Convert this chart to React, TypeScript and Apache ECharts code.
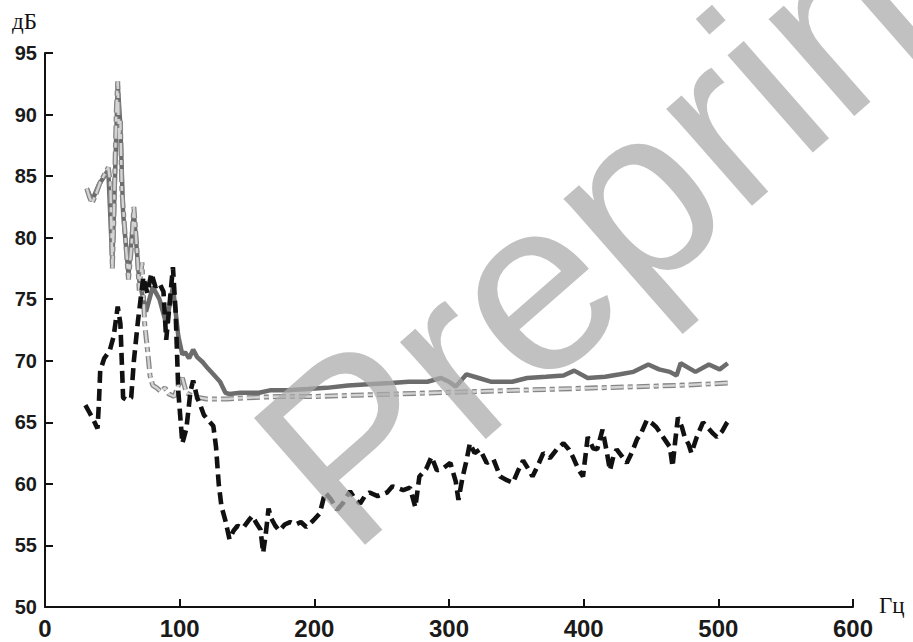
import React, { useEffect, useRef } from "react";
import * as echarts from "echarts";

// ---- data (frequency, Гц / level, дБ) ----
const solidFreq = [31, 35, 40, 47, 50, 52, 54, 56, 58, 62, 66, 70, 75, 80, 85, 90, 95, 99, 102, 104, 107, 110, 113, 117, 120, 125, 130, 134, 137, 145, 159, 167, 180, 195, 209, 225, 240, 257, 270, 284, 294, 300, 305, 313, 322, 331, 347, 358, 372, 385, 393, 403, 416, 427, 437, 448, 456, 464, 469, 472, 483, 493, 501, 507];
const solidDb = [84, 83, 84.3, 85.5, 78, 85, 92.5, 89, 82, 77, 82, 76.5, 74, 76, 75, 73, 76, 72, 70.5, 70.7, 70.2, 70.9, 70.3, 69.9, 69.5, 68.9, 68.3, 67.4, 67.3, 67.4, 67.4, 67.6, 67.6, 67.7, 67.8, 68.0, 68.1, 68.2, 68.3, 68.3, 68.6, 68.3, 67.9, 68.9, 68.6, 68.3, 68.3, 68.6, 68.7, 68.8, 69.2, 68.6, 68.7, 68.9, 69.1, 69.7, 69.3, 69.1, 68.8, 69.8, 69.1, 69.7, 69.3, 69.8];

const dashDotFreq = [31, 33, 35, 38, 41, 44, 47, 48.5, 50, 51, 52, 53, 54, 55, 56, 57, 58, 60, 62, 64, 66, 68, 70, 72, 74, 76, 78, 80, 83, 86, 89, 92, 96, 99, 102, 105, 110, 120, 135, 150, 175, 200, 230, 260, 290, 320, 350, 380, 410, 440, 470, 490, 508];
const dashDotDb = [84, 83.3, 82.8, 83.6, 84.5, 85.1, 85.7, 84.5, 77.5, 81, 86, 90.5, 92.7, 88, 89.5, 84, 82.5, 79.5, 76.6, 79, 82.5, 79.5, 75.7, 78, 73, 71, 68.8, 68.0, 67.8, 67.5, 67.8, 67.3, 67.1, 68.0, 68.6, 67.4, 67.1, 66.9, 66.9, 67.0, 67.1, 67.1, 67.2, 67.3, 67.4, 67.5, 67.6, 67.7, 67.8, 67.9, 68.0, 68.1, 68.2];

const dashedFreq = [30, 33, 36, 39, 40, 41, 44, 48, 51, 54, 56, 57, 58, 61, 64, 66, 69, 71, 73, 76, 79, 82, 85, 88, 90, 92, 95, 97, 99, 102, 105, 108, 110, 113, 115, 118, 121, 125, 127, 129, 131, 134, 137, 140, 143, 147, 151, 154, 157, 160, 162, 164, 166, 168, 171, 174, 178, 182, 186, 190, 194, 199, 204, 208, 212, 217, 221, 226.5, 230, 234, 238, 241, 247, 254, 258, 261, 266, 271, 275, 278, 283, 287, 291, 296, 301, 305, 307, 310, 313, 315.5, 319, 323, 328, 333, 338, 343, 347.5, 351, 355, 359, 362, 366, 370, 375, 380, 385, 389, 392, 396, 399.5, 403, 407, 410, 414, 417, 419.5, 422, 424.5, 428, 432, 436, 439.5, 443, 447, 451, 454, 459, 464, 466, 468, 470, 473, 475, 478, 480, 484, 488.6, 492, 496, 499, 503, 506, 509];
const dashedDb = [66.4, 65.8, 65.2, 64.5, 66.5, 69.2, 70.2, 70.8, 72, 74.4, 73, 70, 67, 66.8, 67, 70, 73.2, 75, 76.8, 75.5, 77.1, 76, 76.3, 75.6, 71.7, 74, 77.6, 74, 67.5, 63.3, 64.5, 67.5, 68.4, 67, 66.5, 65.6, 65.2, 64.7, 63, 60, 58.2, 57, 55.5, 56.2, 56.6, 56.4, 57, 57.4, 56.8, 56.3, 54.4, 56, 58, 57.2, 56.6, 56.2, 56.7, 56.9, 56.7, 56.9, 56.5, 57.0, 57.6, 59.3, 58.8, 57.9, 58.4, 59.4, 58.8, 58.4, 59.1, 59.3, 59.0, 59.3, 59.8, 59.7, 59.5, 59.7, 58.1, 60.6, 61.2, 62.2, 61.1, 61.3, 61.7, 60.2, 58.7, 60.5, 61.9, 63.3, 62.5, 62.8, 61.7, 62, 60.6, 60.3, 60.1, 61, 61.9, 61.2, 60.6, 61.5, 62.5, 62.1, 62.8, 63.3, 62.8, 62.2, 61.2, 60.6, 63.8, 62.9, 62.8, 64.4, 62.7, 61.1, 62.2, 62.8, 62.3, 61.7, 62.6, 63.6, 64.2, 65.2, 64.9, 64.6, 63.8, 63, 61.4, 63.5, 65.4, 64.6, 63.8, 63.2, 62.5, 63.8, 65, 64.6, 64.1, 63.8, 64.3, 64.9, 65.3];

const xTicks = [0, 100, 200, 300, 400, 500, 600];
const yTicks = [50, 55, 60, 65, 70, 75, 80, 85, 90, 95];
const yUnit = "дБ";
const xUnit = "Гц";
const watermark = "Preprint";

const zip = (xs: number[], ys: number[]) => xs.map((x, i) => [x, ys[i]]);

export default function App() {
  const ref = useRef<HTMLDivElement>(null);
  useEffect(() => {
    if (!ref.current) return;
    const chart = echarts.init(ref.current, null, { renderer: "svg" });
    const dashDot = [13, 4, 5, 4];
    chart.setOption({
      animation: false,
      backgroundColor: "#ffffff",
      grid: { left: 45, right: 60, top: 53, bottom: 35, containLabel: false },
      xAxis: {
        type: "value",
        min: xTicks[0],
        max: xTicks[xTicks.length - 1],
        interval: 100,
        splitLine: { show: false },
        axisLine: { lineStyle: { color: "#111", width: 2 } },
        axisTick: { inside: true, length: 8, lineStyle: { color: "#111", width: 2 } },
        axisLabel: {
          margin: 9,
          color: "#1a1a1a",
          fontFamily: "'Liberation Sans Narrow', 'Liberation Sans', Arial, sans-serif",
          fontWeight: "bold",
          fontSize: 24,
        },
      },
      yAxis: {
        type: "value",
        min: yTicks[0],
        max: yTicks[yTicks.length - 1],
        interval: 5,
        splitLine: { show: false },
        axisLine: { show: true, lineStyle: { color: "#111", width: 2 } },
        axisTick: { show: true, inside: true, length: 8, lineStyle: { color: "#111", width: 2 } },
        axisLabel: {
          margin: 8,
          color: "#1a1a1a",
          fontFamily: "'Liberation Sans', Arial, sans-serif",
          fontWeight: "bold",
          fontSize: 20,
        },
      },
      series: [
        {
          type: "line",
          name: "solid",
          data: zip(solidFreq, solidDb),
          showSymbol: false,
          lineStyle: { color: "#6c6c6c", width: 4.5 },
          z: 2,
        },
        {
          type: "line",
          name: "dashdot-outline",
          data: zip(dashDotFreq, dashDotDb),
          showSymbol: false,
          lineStyle: { color: "#858585", width: 5, type: dashDot },
          z: 3,
        },
        {
          type: "line",
          name: "dashdot",
          data: zip(dashDotFreq, dashDotDb),
          showSymbol: false,
          lineStyle: { color: "#d4d4d4", width: 2.4, type: dashDot },
          z: 4,
        },
        {
          type: "line",
          name: "dashed",
          data: zip(dashedFreq, dashedDb),
          showSymbol: false,
          lineStyle: { color: "#111111", width: 4.6, type: [12, 6] },
          z: 5,
        },
      ],
      graphic: [
        {
          type: "text",
          left: 12,
          top: 10,
          style: {
            text: yUnit,
            fill: "#111",
            font: "23px 'Liberation Serif', 'DejaVu Serif', serif",
          },
        },
        {
          type: "text",
          left: 879,
          top: 594,
          style: {
            text: xUnit,
            fill: "#111",
            font: "23px 'Liberation Serif', 'DejaVu Serif', serif",
          },
        },
        {
          type: "text",
          x: 294,
          y: 494,
          rotation: 0.72,
          z: 100,
          silent: true,
          style: {
            text: watermark,
            fill: "rgba(172,172,172,0.75)",
            font: "245px 'Liberation Sans', Arial, sans-serif",
            textAlign: "left",
            textVerticalAlign: "middle",
          },
        },
      ],
    });
    return () => chart.dispose();
  }, []);
  return (
    <div
      ref={ref}
      style={{ position: "fixed", left: 0, top: 0, width: 913, height: 642, background: "#fff" }}
    />
  );
}
